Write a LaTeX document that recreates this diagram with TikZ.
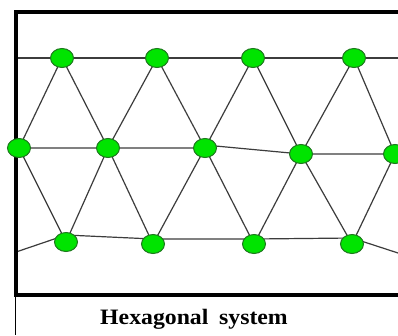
\documentclass[tikz,border=0pt]{standalone}
\usepackage{fontspec}
\usepackage{graphicx}
\setmainfont{Liberation Serif}
\usetikzlibrary{shapes.geometric}
\definecolor{nodegreen}{RGB}{0,228,0}
\definecolor{nodeborder}{RGB}{30,120,30}
\definecolor{edgegray}{RGB}{60,60,60}
\tikzset{
  dot/.style={ellipse, draw=nodeborder, fill=nodegreen, line width=1pt, minimum width=23pt, minimum height=19pt, inner sep=0pt},
  edge/.style={draw=edgegray, line width=1.2pt},
  frame/.style={draw=black, line width=4pt},
}
\begin{document}
\begin{tikzpicture}[x=1pt,y=-1pt]
\useasboundingbox (0,0) rectangle (398,335);
\fill[white] (0,0) rectangle (398,335);
% frame coordinates
\coordinate (ftl) at (14,12);
\coordinate (ftr) at (398,12);
\coordinate (fl) at (16,12);
\coordinate (fb) at (16,295);
\coordinate (fbl) at (14,295);
\coordinate (fbr) at (398,295);
\coordinate (cl) at (15,295);
\coordinate (cb) at (15,335);
% line ends
\coordinate (topL) at (16,58);
\coordinate (topR) at (398,58);
\coordinate (midR) at (398,154);
\coordinate (botL) at (16,252);
\coordinate (botR) at (398,253);
% node positions
\path (62,58) coordinate (pT1) (157,58) coordinate (pT2) (253,58) coordinate (pT3) (354,58) coordinate (pT4)
      (19,148) coordinate (pM1) (108,148) coordinate (pM2) (205,148) coordinate (pM3) (301,154) coordinate (pM4) (395,154) coordinate (pM5)
      (66,242) coordinate (pB1) (153,244) coordinate (pB2) (254,244) coordinate (pB3) (352,244) coordinate (pB4);
% edges
\draw[edge] (topL) -- (pT1) -- (pT2) -- (pT3) -- (pT4) -- (topR);
\draw[edge] (pM1) -- (pM2) -- (pM3) -- ([yshift=3pt]pM3) -- (pM4) -- (pM5) -- (midR);
\draw[edge] (botL) -- ([yshift=7pt]pB1) -- ([yshift=5pt]pB2) -- ([yshift=5pt]pB3) -- ([yshift=6pt]pB4) -- (botR);
\foreach \t/\a/\b in {T1/M1/M2, T2/M2/M3, T3/M3/M4, T4/M4/M5, B1/M1/M2, B2/M2/M3, B3/M3/M4, B4/M4/M5}{
  \draw[edge] (p\a) -- (p\t) -- (p\b);
}
% frame
\draw[frame] (ftl) -- (ftr);
\draw[frame] (fl) -- (fb);
\draw[frame] (fbl) -- (fbr);
\draw[black, line width=1pt] (cl) -- (cb);
% nodes
\foreach \n in {T1,T2,T3,T4,M1,M2,M3,M4,M5,B1,B2,B3,B4}{
  \node[dot] (\n) at (p\n) {};
}
\node[anchor=base, inner sep=0pt] (cap) at (194,324) {\scalebox{1.08}[1]{\fontsize{22}{26}\selectfont\bfseries Hexagonal\hspace{0.2em} system}};
\end{tikzpicture}
\end{document}
